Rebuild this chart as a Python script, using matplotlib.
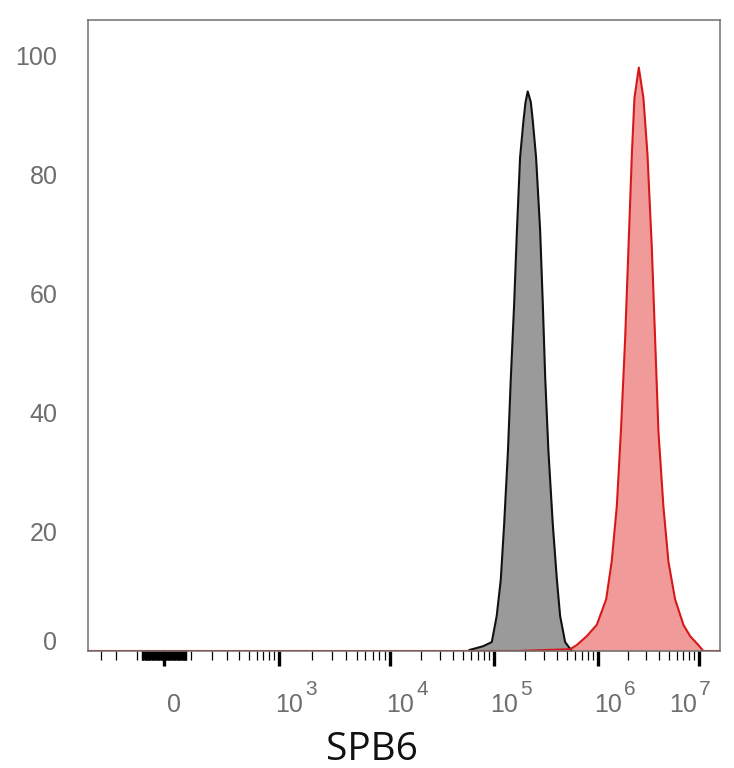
import matplotlib
matplotlib.use("Agg")
import matplotlib.pyplot as plt
import matplotlib.transforms as mtransforms
import numpy as np

# histogram outlines (intensity, % of max)
gray_x = [5.6e4, 5.88e4, 7.83e4, 9.5e4, 1.06e5, 1.16e5, 1.25e5, 1.36e5, 1.45e5,
          1.56e5, 1.66e5, 1.78e5, 1.92e5, 2.01e5, 2.11e5, 2.26e5, 2.36e5, 2.54e5,
          2.78e5, 2.95e5, 3.11e5, 3.34e5, 3.68e5, 4.03e5, 4.33e5, 4.84e5, 5.61e5]
gray_y = [0, 0.2, 0.8, 1.5, 5.9, 12, 21.3, 33.6, 45.9,
          58.2, 70.6, 82.9, 89.1, 92.2, 94, 92.2, 89.1, 82.9,
          70.6, 58.2, 45.9, 33.6, 21.3, 12, 5.9, 1.5, 0]

red_x = [-400, 1.66e5, 5.41e5, 6.27e5, 7.83e5, 9.78e5, 1.21e6, 1.37e6, 1.54e6,
         1.69e6, 1.86e6, 2.01e6, 2.17e6, 2.30e6, 2.54e6, 2.82e6, 3.09e6, 3.41e6,
         3.68e6, 3.97e6, 4.44e6, 4.98e6, 5.79e6, 7.0e6, 8.15e6, 9.84e6, 1.10e7, 1.6e7]
red_y = [0, 0, 0.3, 1, 2.5, 4.4, 8.7, 15, 24.3,
         36.8, 52.3, 67.9, 83.5, 92.9, 98, 92.9, 83.5, 67.9,
         52.3, 36.8, 24.3, 15, 8.7, 4.4, 2.5, 1, 0, 0]

major_vals = [0, 1e3, 1e4, 1e5, 1e6, 1e7]
major_labels = ['0', '10', '10', '10', '10', '10']
exponents = ['', '3', '4', '5', '6', '7']
y_ticks = [0, 20, 40, 60, 80, 100]

# logicle-like axis: arcsinh, pinned to the decade spacing of the cytometer plot
W = 156.0
anchor_vals = np.array([-1e3, 0, 1e3, 1e4, 1e5, 1e6, 1e7, 1e8])
anchor_pos = np.array([49, 164, 279, 390, 494, 597.7, 699, 800])


def g(v):
    return np.arcsinh(np.asarray(v, dtype=float) / W) / np.log(10)


G = g(anchor_vals)


def fwd(v):
    return np.interp(g(v), G, anchor_pos)


def inv(p):
    return W * np.sinh(np.interp(np.asarray(p, dtype=float), anchor_pos, G) * np.log(10))


minor_vals = [-300, -200, -100] + [v for v in range(-80, 82, 2) if v != 0]
minor_vals += list(range(100, 1000, 100))
for k in range(3, 7):
    minor_vals += [m * 10 ** k for m in range(2, 10)]

fig = plt.figure(figsize=(7.34, 7.68), dpi=100)
ax = fig.add_axes([88 / 734, 117 / 768, 632 / 734, 631 / 768])
ax.set_xscale('function', functions=(fwd, inv))

ax.fill_between(gray_x, gray_y, color='#9a9a9a', lw=0, zorder=1)
ax.plot(gray_x, gray_y, color='#111111', lw=1.5, zorder=2, solid_joinstyle='round')
ax.fill_between(red_x, red_y, color='#f09a9a', lw=0, zorder=1.5)
ax.plot(red_x, red_y, color='#d81818', lw=1.5, zorder=2.2, solid_joinstyle='round')

ax.set_xlim(-409, 1.61e7)
ax.set_ylim(0, 106)

for sp in ax.spines.values():
    sp.set_color('#707070')
    sp.set_linewidth(1.1)

ax.set_xticks(major_vals)
ax.set_xticklabels(major_labels)
ax.set_xticks(minor_vals, minor=True)
ax.tick_params(axis='x', which='major', length=11, width=2.4, color='black',
               pad=19, labelsize=18, labelcolor='#6e6e6e')
ax.tick_params(axis='x', which='minor', length=6.5, width=0.9, color='black')

# label shifts in pixels: "0" sits right of its tick, the last label is pulled in
label_dx = {0: 3, 1e3: -4, 1e4: -4, 1e5: -4, 1e6: -4, 1e7: -30}
for v, lab in zip(major_vals, ax.get_xticklabels()):
    lab.set_fontfamily('Liberation Sans')
    lab.set_ha('left')
    lab.set_transform(lab.get_transform() +
                      mtransforms.ScaledTranslation(label_dx[v] / 100, 0, fig.dpi_scale_trans))

for v, e in zip(major_vals, exponents):
    if e:
        ax.annotate(e, xy=(v, 0), xycoords=('data', 'axes fraction'),
                    xytext=(label_dx[v] + 30, -44), textcoords='offset pixels',
                    ha='left', va='baseline', fontsize=15, color='#6e6e6e',
                    family='Liberation Sans', annotation_clip=False)

ax.set_yticks(y_ticks)
ax.set_yticklabels([str(t) for t in y_ticks])
ax.tick_params(axis='y', length=0, pad=22, labelsize=18, labelcolor='#6e6e6e')
for lab in ax.get_yticklabels():
    lab.set_fontfamily('Liberation Sans')
    if lab.get_text() == '0':
        lab.set_transform(lab.get_transform() +
                          mtransforms.ScaledTranslation(0, 11 / 100, fig.dpi_scale_trans))

ax.set_xlabel('SPB6', fontsize=28, family='Open Sans', color='#111111')
ax.xaxis.label.set_va('baseline')
ax.xaxis.set_label_coords((372 - 88) / 632, -0.172)

fig.savefig('out.png', dpi=100)
